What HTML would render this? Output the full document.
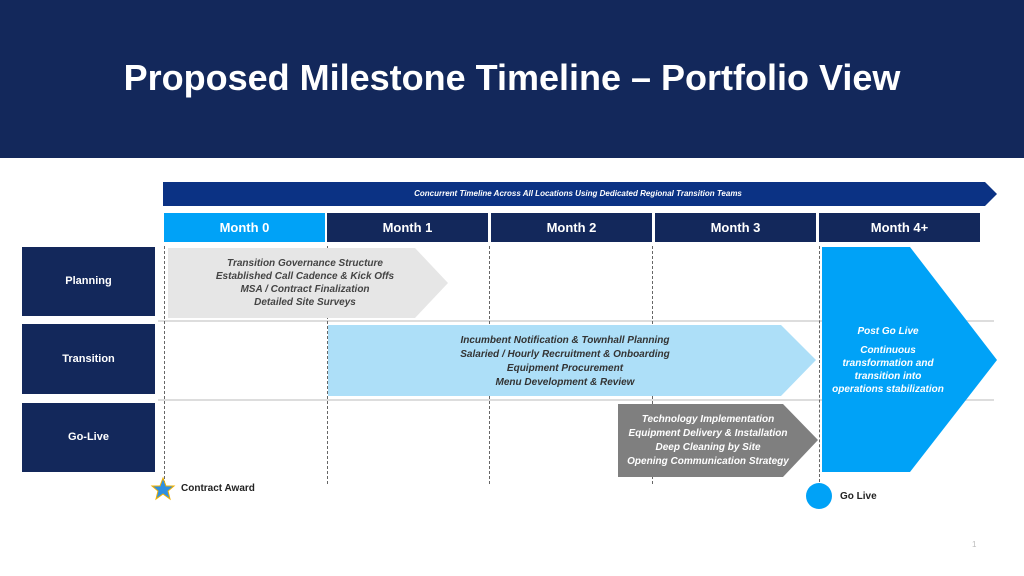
<!DOCTYPE html>
<html><head><meta charset="utf-8"><style>
body{margin:0;width:1024px;height:576px;position:relative;background:#fff;font-family:"Liberation Sans",sans-serif;overflow:hidden}
.a{position:absolute}
.banner{left:0;top:0;width:1024px;height:158px;background:#13285b;color:#fff;font-weight:bold;font-size:36px;text-align:center;line-height:156px}
.mh{top:213px;height:29px;background:#13285b;color:#fff;font-weight:bold;font-size:13px;text-align:center;line-height:29px}
.rl{left:22px;width:133px;background:#13285b;color:#fff;font-weight:bold;font-size:11px;text-align:center}
.dl{top:246px;height:238px;border-left:1.5px dashed #666;width:0}
.hl{left:158px;width:836px;height:0;border-top:2px solid #ddd}
.t{font-style:italic;font-weight:bold;font-size:10px;text-align:center;line-height:13px}
</style></head><body>
<div class="a banner">Proposed Milestone Timeline – Portfolio View</div>
<div class="a hl" style="top:320px"></div>
<div class="a hl" style="top:399px"></div>
<div class="a dl" style="left:164px"></div>
<div class="a dl" style="left:327px"></div>
<div class="a dl" style="left:489px"></div>
<div class="a dl" style="left:652px"></div>
<div class="a dl" style="left:819px;height:236px"></div>
<svg class="a" style="left:0;top:0" width="1024" height="576">
<polygon points="163,182 985,182 997,194 985,206 163,206" fill="#0b3284"/>
<polygon points="168,248 415,248 448,283 415,318 168,318" fill="#e6e6e6"/>
<polygon points="328,325 781,325 816,360 781,396 328,396" fill="#addff8"/>
<polygon points="618,404 783,404 818,440 783,477 618,477" fill="#7f7f7f"/>
<polygon points="822,247 910,247 997,360 910,472 822,472" fill="#00a2f7"/>
<polygon points="163,478 166,486 174,486 168,491 170,499 163,494 156,499 158,491 152,486 160,486" fill="#2f8fe0" stroke="#f0b000" stroke-width="1"/>
<circle cx="819" cy="496" r="13" fill="#00a2f7"/>
</svg>
<div class="a" style="left:163px;top:182px;width:830px;height:24px;line-height:24px;text-align:center;color:#fff;font-size:8px;font-weight:bold;font-style:italic">Concurrent Timeline Across All Locations Using Dedicated Regional Transition Teams</div>
<div class="a mh" style="left:164px;width:161px;background:#00a2f7">Month 0</div>
<div class="a mh" style="left:327px;width:161px">Month 1</div>
<div class="a mh" style="left:491px;width:161px">Month 2</div>
<div class="a mh" style="left:655px;width:161px">Month 3</div>
<div class="a mh" style="left:819px;width:161px">Month 4+</div>
<div class="a rl" style="top:247px;height:69px;line-height:69px">Planning</div>
<div class="a rl" style="top:324px;height:70px;line-height:70px">Transition</div>
<div class="a rl" style="top:403px;height:69px;line-height:69px">Go-Live</div>
<div class="a t" style="left:190px;top:257px;width:230px;color:#444">Transition Governance Structure<br>Established Call Cadence &amp; Kick Offs<br>MSA / Contract Finalization<br>Detailed Site Surveys</div>
<div class="a t" style="left:400px;top:334px;width:330px;color:#333;line-height:14px">Incumbent Notification &amp; Townhall Planning<br>Salaried / Hourly Recruitment &amp; Onboarding<br>Equipment Procurement<br>Menu Development &amp; Review</div>
<div class="a t" style="left:618px;top:413px;width:180px;color:#fff;line-height:14px">Technology Implementation<br>Equipment Delivery &amp; Installation<br>Deep Cleaning by Site<br>Opening Communication Strategy</div>
<div class="a t" style="left:822px;top:325px;width:132px;color:#fff">Post Go Live</div>
<div class="a t" style="left:822px;top:344px;width:132px;color:#fff">Continuous<br>transformation and<br>transition into<br>operations stabilization</div>
<div class="a" style="left:181px;top:483px;font-size:10px;font-weight:bold;color:#222">Contract Award</div>
<div class="a" style="left:840px;top:491px;font-size:10px;font-weight:bold;color:#222">Go Live</div>
<div class="a" style="left:972px;top:540px;font-size:8px;color:#bbb">1</div>
</body></html>
